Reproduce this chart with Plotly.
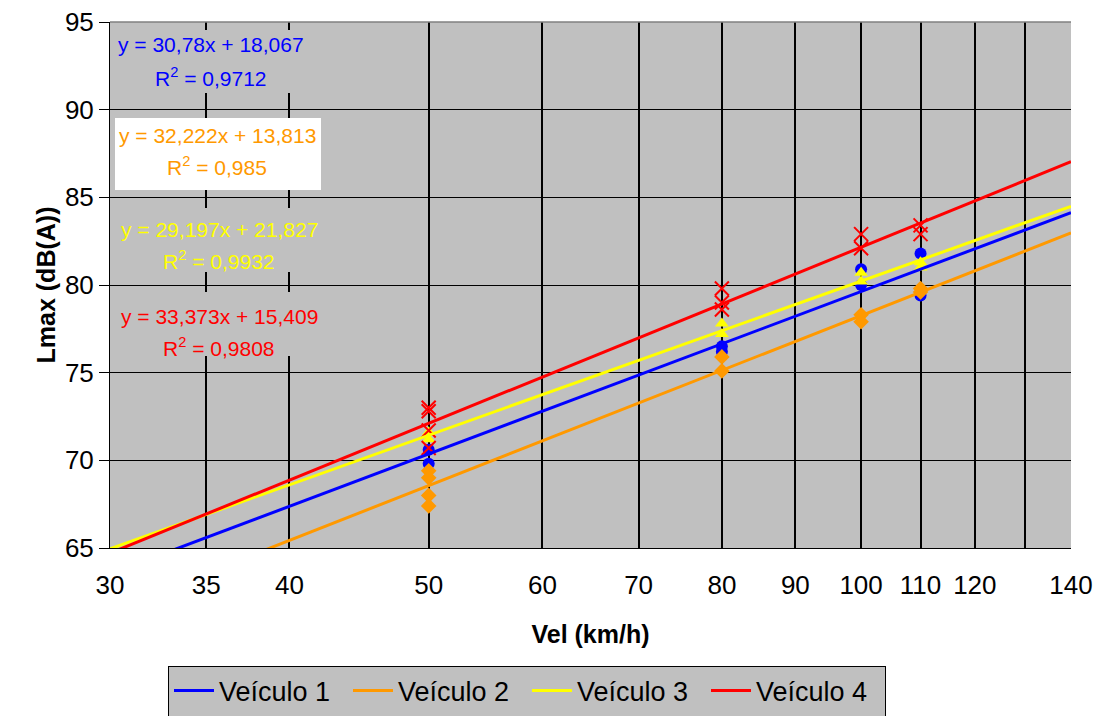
import math
import plotly.graph_objects as go

# ---- data ----
vehicles = ["Veículo 1", "Veículo 2", "Veículo 3", "Veículo 4"]
colors = ["#0000FF", "#FF9900", "#FFFF00", "#FF0000"]
symbols = ["circle", "diamond", "triangle-up", "x-thin-open"]

speeds_v1 = [50, 50, 80, 80, 100, 100, 110, 110]
lmax_v1 = [70.6, 69.8, 76.5, 76.2, 80.9, 80.0, 81.8, 79.4]
speeds_v2 = [50, 50, 50, 50, 80, 80, 100, 100, 110, 110]
lmax_v2 = [69.4, 69.0, 68.0, 67.4, 75.9, 75.1, 78.3, 77.9, 79.8, 79.6]
speeds_v3 = [50, 50, 80, 80, 100, 100, 110, 110]
lmax_v3 = [71.6, 71.2, 77.8, 77.2, 80.7, 80.2, 81.3, 81.0]
speeds_v4 = [50, 50, 50, 50, 80, 80, 80, 100, 100, 110, 110]
lmax_v4 = [73.0, 72.8, 71.7, 70.7, 79.8, 79.0, 78.6, 82.9, 82.1, 83.4, 82.9]

slopes = [30.78, 32.222, 29.197, 33.373]
intercepts = [18.067, 13.813, 21.827, 15.409]
eq_text = ["y = 30,78x + 18,067", "y = 32,222x + 13,813",
           "y = 29,197x + 21,827", "y = 33,373x + 15,409"]
r2_text = ["0,9712", "0,985", "0,9932", "0,9808"]

trend_x = [30, 140]
x_tickvals = [30, 35, 40, 50, 60, 70, 80, 90, 100, 110, 120, 130, 140]
x_ticktext = ["30", "35", "40", "50", "60", "70", "80", "90", "100", "110", "120", "", "140"]
y_tickvals = [65, 70, 75, 80, 85, 90, 95]

speeds = [speeds_v1, speeds_v2, speeds_v3, speeds_v4]
lmaxs = [lmax_v1, lmax_v2, lmax_v3, lmax_v4]

FONT = "Liberation Sans, Arial, sans-serif"
fig = go.Figure()

for i in range(4):
    mk = dict(color=colors[i], size=12, symbol=symbols[i])
    if symbols[i].startswith("x"):
        mk = dict(color=colors[i], size=14, symbol=symbols[i], line=dict(color=colors[i], width=2))
    fig.add_trace(go.Scatter(x=speeds[i], y=lmaxs[i], mode="markers", marker=mk,
                             showlegend=False, hoverinfo="x+y"))

for i in range(4):
    ty = [slopes[i] * math.log10(v) + intercepts[i] for v in trend_x]
    fig.add_trace(go.Scatter(x=trend_x, y=ty, mode="lines", name=vehicles[i],
                             line=dict(color=colors[i], width=3)))

# plot-area pixel geometry (page pixels) ; page body has an 8px offset
OFF = 8
W, H = 1102, 716
L, R, T, B = 110, 1071, 22, 548
def px(xp):
    return (xp - L) / (R - L)
def py(yp):
    return (B - yp) / (B - T)

shapes = []
annotations = []
boxes = [(113, 30, 318, 93, "#C0C0C0"), (115, 118, 321, 190, "#FFFFFF"),
         (113, 208, 322, 272, "#C0C0C0"), (113, 292, 322, 356, "#C0C0C0")]
lines_y = [(45, 77), (135, 166), (229, 260), (316, 347)]
centers = [211, 217, 219, 219]
for i in range(4):
    x0, y0, x1, y1, c = boxes[i]
    shapes.append(dict(type="rect", xref="paper", yref="paper", x0=px(x0), x1=px(x1),
                       y0=py(y1), y1=py(y0), fillcolor=c, line=dict(width=0), layer="above"))
    annotations.append(dict(xref="paper", yref="paper", x=px(centers[i]), y=py(lines_y[i][0]),
                            text=eq_text[i], showarrow=False, xanchor="center", yanchor="middle",
                            font=dict(family=FONT, size=21, color=colors[i])))
    annotations.append(dict(xref="paper", yref="paper", x=px(centers[i]), y=py(lines_y[i][1]),
                            text="R<sup>2</sup> = " + r2_text[i], showarrow=False,
                            xanchor="center", yanchor="middle",
                            font=dict(family=FONT, size=21, color=colors[i])))

# top border of plot area
shapes.append(dict(type="line", xref="paper", yref="paper", x0=0, x1=1, y0=1, y1=1,
                   line=dict(color="#808080", width=1.5), layer="above"))

fig.update_layout(
    width=W, height=H,
    margin=dict(l=L - OFF, r=W + OFF - R, t=T - OFF, b=H + OFF - B, autoexpand=False),
    paper_bgcolor="white", plot_bgcolor="#C0C0C0",
    font=dict(family=FONT, color="black"),
    shapes=shapes, annotations=annotations,
    legend=dict(orientation="h", x=px(527), y=py(691), xanchor="center", yanchor="middle",
                bgcolor="#C0C0C0", bordercolor="black", borderwidth=1,
                font=dict(family=FONT, size=27), itemwidth=40, traceorder="normal",
                entrywidth=124, entrywidthmode="pixels"),
    xaxis=dict(type="log", range=[math.log10(30), math.log10(140)],
               tickmode="array", tickvals=x_tickvals, ticktext=x_ticktext,
               showgrid=True, gridcolor="black", gridwidth=2,
               showline=True, linecolor="black", linewidth=1,
               ticks="outside", ticklen=14, tickcolor="rgba(0,0,0,0)",
               tickfont=dict(family=FONT, size=26), ticklabeloverflow="allow",
               title=dict(text="<b>Vel (km/h)</b>", font=dict(family=FONT, size=25), standoff=26),
               zeroline=False),
    yaxis=dict(range=[65, 95], tickmode="array", tickvals=y_tickvals,
               showgrid=True, gridcolor="black", gridwidth=1,
               showline=True, linecolor="black", linewidth=1,
               ticks="outside", ticklen=10, tickcolor="black",
               tickfont=dict(family=FONT, size=26), ticklabeloverflow="allow",
               title=dict(text="<b>Lmax (dB(A))</b>", font=dict(family=FONT, size=25), standoff=2),
               zeroline=False),
)

fig.write_html("out.html")
